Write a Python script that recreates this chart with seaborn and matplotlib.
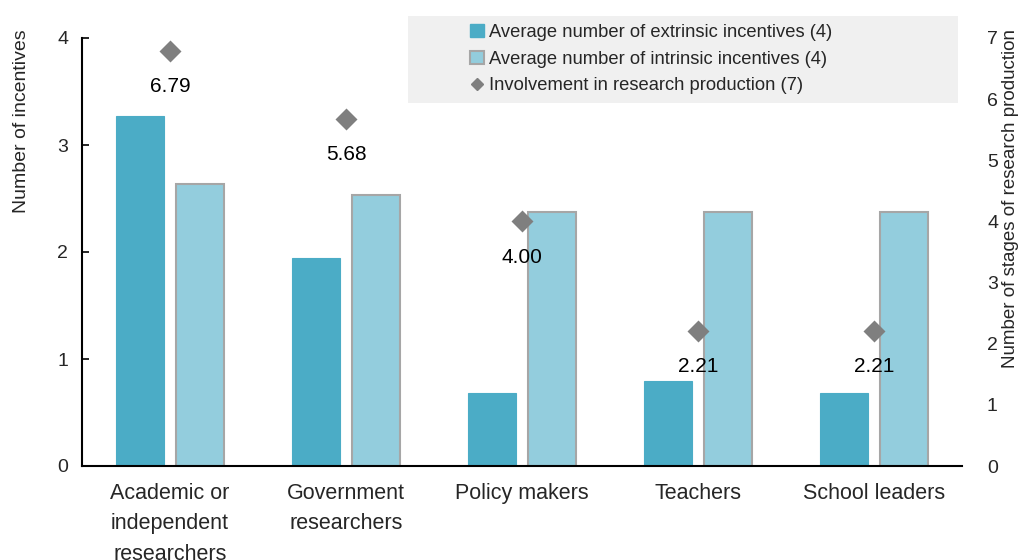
import matplotlib
matplotlib.use("Agg")
import matplotlib.pyplot as plt
from matplotlib.patches import Rectangle
from matplotlib.lines import Line2D
from matplotlib.patches import Patch
import seaborn as sns
import pandas as pd

categories = ["Academic or\nindependent\nresearchers", "Government\nresearchers",
              "Policy makers", "Teachers", "School leaders"]
extrinsic = [3.27, 1.94, 0.68, 0.79, 0.68]
intrinsic = [2.64, 2.53, 2.37, 2.37, 2.37]
involvement = [6.79, 5.68, 4.00, 2.21, 2.21]
series_names = ["Average number of extrinsic incentives (4)",
                "Average number of intrinsic incentives (4)"]
point_name = "Involvement in research production (7)"
left_ticks = [0, 1, 2, 3, 4]
right_ticks = [0, 1, 2, 3, 4, 5, 6, 7]

sns.set_theme(style="white")
plt.rcParams["font.family"] = ["Liberation Sans", "DejaVu Sans"]

c_ext = "#4BACC6"
c_int = "#93CDDD"
c_edge = "#A6A6A6"
c_pt = "#7F7F7F"

df = pd.DataFrame({
    "category": categories * 2,
    "value": extrinsic + intrinsic,
    "series": [series_names[0]] * len(categories) + [series_names[1]] * len(categories),
})

fig = plt.figure(figsize=(10.23, 5.6), dpi=100)
ax = fig.add_axes([82 / 1023, (560 - 466) / 560, 880 / 1023, 428 / 560])

sns.barplot(data=df, x="category", y="value", hue="series", order=categories,
            hue_order=series_names, palette=[c_ext, c_int], width=0.68, gap=0.2,
            saturation=1, ax=ax, legend=False)
for bar in ax.containers[0]:
    bar.set_edgecolor(c_ext)
    bar.set_linewidth(0.8)
for bar in ax.containers[1]:
    bar.set_edgecolor(c_edge)
    bar.set_linewidth(1.5)

ax2 = ax.twinx()
sns.pointplot(x=categories, y=involvement, order=categories, color=c_pt,
              marker="D", linestyle="none", markersize=9, errorbar=None, ax=ax2)
for c, v in zip(range(len(categories)), involvement):
    ax2.annotate(f"{v:.2f}", (c, v), xytext=(0, -26), textcoords="offset points",
                 ha="center", va="center", fontsize=15, color="black", zorder=10)

ax.set_xlim(-0.5, 4.5)
ax.set_ylim(0, 4)
ax2.set_ylim(0, 7)
ax.set_yticks(left_ticks)
ax2.set_yticks(right_ticks)

ax.set_xticks([-0.5, 0.5, 1.5, 2.5, 3.5, 4.5])
ax.set_xticklabels([])
ax.set_xticks(range(len(categories)), minor=True)
ax.set_xticklabels(categories, minor=True, fontsize=15.5, linespacing=1.6)
ax.tick_params(axis="x", which="major", direction="in", length=6, width=1.2, color="black")
ax.tick_params(axis="x", which="minor", length=0, pad=12)
ax.tick_params(axis="y", direction="in", length=5, width=1.2, color="black", labelsize=14, pad=10, left=True)
ax2.tick_params(axis="y", length=0, labelsize=14, pad=18, right=True)
ax2.set_xlabel("")
ax.set_xlabel("")

ax.set_ylabel("Number of incentives", fontsize=14, loc="top")
ax2.set_ylabel("Number of stages of research production", fontsize=13.5, loc="top")
ax.yaxis.set_label_coords(-52 / 880, 1.02)
ax2.yaxis.set_label_coords(1 + 40 / 880, 1.02)

for s in ["top", "right"]:
    ax.spines[s].set_visible(False)
for s in ["top", "right", "left", "bottom"]:
    ax2.spines[s].set_visible(False)
ax.spines["left"].set_color("black")
ax.spines["bottom"].set_color("black")
ax.spines["left"].set_linewidth(1.5)
ax.spines["bottom"].set_linewidth(1.5)

bg = Rectangle((408 / 1023, 1 - 103 / 560), 550 / 1023, 87 / 560,
               transform=fig.transFigure, facecolor="#F0F0F0", edgecolor="none", zorder=3)
fig.add_artist(bg)

handles = [
    Patch(facecolor=c_ext, edgecolor=c_ext),
    Patch(facecolor=c_int, edgecolor=c_edge, linewidth=1.5),
    Line2D([], [], marker="D", color=c_pt, linestyle="none", markersize=6),
]
leg = fig.legend(handles, series_names + [point_name], loc="upper left",
                 bbox_to_anchor=(470 / 1023, 1 - 24 / 560), frameon=False,
                 fontsize=13.2, handlelength=0.75, handleheight=0.75, handletextpad=0.3,
                 labelspacing=0.52, borderaxespad=0, borderpad=0)
leg.set_zorder(5)

fig.savefig("out.png", dpi=100)
